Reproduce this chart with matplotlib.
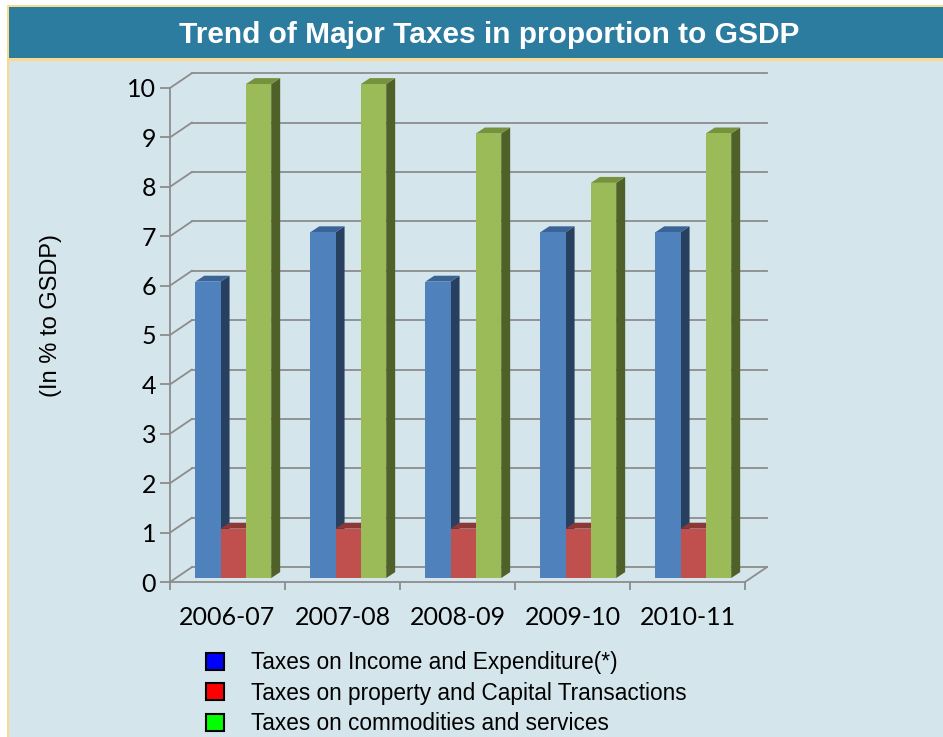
import matplotlib.pyplot as plt
from matplotlib.patches import Rectangle, Polygon, Patch

years = ["2006-07", "2007-08", "2008-09", "2009-10", "2010-11"]
income_exp = [6, 7, 6, 7, 7]
property_cap = [1, 1, 1, 1, 1]
commodities = [10, 10, 9, 8, 9]

series_names = [
    "Taxes on Income and Expenditure(*)",
    "Taxes on property and Capital Transactions",
    "Taxes on commodities and services",
]
# front / top / side shades for the fake 3d look
shades = [
    ("#4F81BD", "#3A6496", "#27405F"),
    ("#C0504D", "#8C3836", "#6E2B29"),
    ("#9BBB59", "#76923C", "#4F6129"),
]
legend_colors = ["#0000FF", "#FF0000", "#00FF00"]

W, H = 943, 737
fig = plt.figure(figsize=(W / 100, H / 100), dpi=100)
fig.patch.set_facecolor("white")

# panel background, yellow frame and title bar
fig.patches.append(Rectangle((7 / W, 0), 1, 1 - 5 / H, transform=fig.transFigure,
                             facecolor="#FADB8E", edgecolor="none", zorder=-3))
fig.patches.append(Rectangle((9 / W, 0), 1, 1 - 61 / H, transform=fig.transFigure,
                             facecolor="#D5E5EC", edgecolor="none", zorder=-2))
fig.patches.append(Rectangle((9 / W, 1 - 58 / H), 1, 51 / H, transform=fig.transFigure,
                             facecolor="#2C7CA0", edgecolor="none", zorder=-2))
fig.text(489 / W, 1 - 35 / H, "Trend of Major Taxes in proportion to GSDP",
         color="white", fontsize=21.5, fontweight="bold", family="Liberation Sans",
         ha="center", va="center")

# axes = front plane of the 3d box
ax = fig.add_axes([170 / W, 1 - 582 / H, 575 / W, 494 / H])
ax.set_xlim(-0.5, 4.5)
ax.set_ylim(0, 10)
ax.patch.set_visible(False)

DX, DY = 0.19, 0.30        # depth of back wall (data units)
grid_col = "#8C8C8C"
for v in range(11):
    ax.plot([-0.5 + DX, 4.5 + DX], [v + DY, v + DY], color=grid_col, lw=1.3,
            clip_on=False, zorder=1)
    ax.plot([-0.5, -0.5 + DX], [v, v + DY], color=grid_col, lw=1.3,
            clip_on=False, zorder=1)
ax.plot([4.5, 4.5 + DX], [0, DY], color=grid_col, lw=1.3, clip_on=False, zorder=1)

# bars
bw = 0.22
fx, fy = 0.05, 0.08        # bar front face offset from front plane
bdx, bdy = 0.078, 0.12     # bar depth
for k, vals in enumerate([income_exp, property_cap, commodities]):
    front, top, side = shades[k]
    for i, v in enumerate(vals):
        x0 = i + (k - 1) * bw - bw / 2 + fx
        y0 = fy
        ax.add_patch(Polygon([(x0 + bw, y0), (x0 + bw + bdx, y0 + bdy),
                              (x0 + bw + bdx, y0 + v + bdy), (x0 + bw, y0 + v)],
                             facecolor=side, edgecolor="none", zorder=2 + k, clip_on=False))
        ax.add_patch(Polygon([(x0, y0 + v), (x0 + bdx, y0 + v + bdy),
                              (x0 + bw + bdx, y0 + v + bdy), (x0 + bw, y0 + v)],
                             facecolor=top, edgecolor="none", zorder=2 + k, clip_on=False))
        ax.add_patch(Rectangle((x0, y0), bw, v, facecolor=front, edgecolor="none",
                               zorder=2 + k, clip_on=False))

for s in ["top", "right"]:
    ax.spines[s].set_visible(False)
for s in ["left", "bottom"]:
    ax.spines[s].set_color(grid_col)
    ax.spines[s].set_linewidth(1.3)

ax.set_yticks(range(11))
ax.set_xticks(range(5))
ax.set_xticklabels(years)
ax.set_xticks([i - 0.5 for i in range(6)], minor=True)
ax.tick_params(axis="y", length=7, width=1.3, color=grid_col, pad=3, labelsize=18)
ax.tick_params(axis="x", which="major", length=0, pad=17, labelsize=18)
ax.tick_params(axis="x", which="minor", length=6, width=1.3, color=grid_col)
for lab in ax.get_xticklabels() + ax.get_yticklabels():
    lab.set_family("Lato")

ax.set_ylabel("(In % to GSDP)", fontsize=17, family="Liberation Sans")
ax.yaxis.set_label_coords(-0.188, 0.54)

handles = [Patch(facecolor=c, edgecolor="black", linewidth=1.5) for c in legend_colors]
fig.legend(handles, series_names, loc="upper left",
           bbox_to_anchor=(206 / W, 1 - 651 / H), frameon=False,
           prop={"family": "Liberation Sans", "size": 16.3},
           handlelength=0.78, handleheight=0.78, handletextpad=1.2,
           labelspacing=0.34, borderpad=0, borderaxespad=0)

fig.savefig("out.png", dpi=100, facecolor=fig.get_facecolor())
